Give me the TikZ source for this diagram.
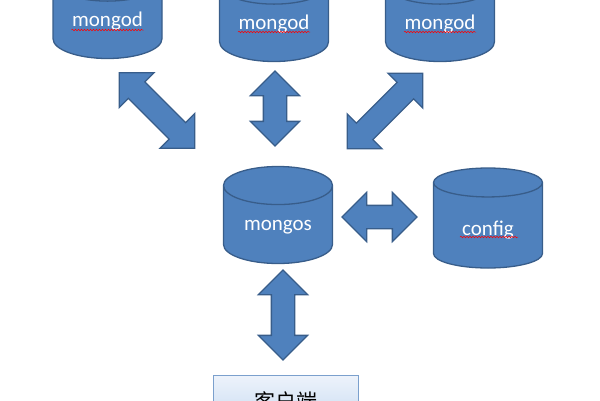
\documentclass[tikz,border=0pt]{standalone}
\usepackage{fontspec}
\setmainfont{Carlito}
\newfontfamily\cjk{Noto Sans CJK SC}
\usetikzlibrary{shapes.geometric,shapes.arrows,decorations.pathmorphing,calc}
\definecolor{dbfill}{HTML}{4F81BD}
\definecolor{dbline}{HTML}{385D8A}
\definecolor{boxtop}{HTML}{EDF3FB}
\definecolor{boxbot}{HTML}{C6D9F1}
\definecolor{boxline}{HTML}{7BA0CD}

\begin{document}
\begin{tikzpicture}[x=1pt, y=-1pt,
	db/.style={draw=dbline, line width=1.3pt, fill=dbfill, cylinder,
		shape border rotate=90, aspect=0.56, minimum width=109pt,
		minimum height=97pt, inner sep=0pt, text=white, anchor=shape center,
		font=\fontsize{21}{21}\selectfont},
	twoway/.style={draw=dbline, line width=1.3pt, fill=dbfill, double arrow,
		double arrow head extend=13pt, minimum width=48pt,
		inner xsep=0pt, inner ysep=11pt},
	typo/.style={draw=red, line width=0.5pt, decorate,
		decoration={snake, amplitude=0.8pt, segment length=3pt}},
	client/.style={draw=boxline, line width=1pt, top color=boxtop,
		bottom color=boxbot, minimum width=145pt, minimum height=52pt,
		font=\cjk\fontsize{21}{21}\selectfont}]
	\useasboundingbox (0,0) rectangle (600,400);
	\clip (0,0) rectangle (600,400);
	% shards
	\node[db] (mongod1) at (107.5, 10) {\raisebox{-6pt}[0pt][0pt]{mongod}};
	\node[db] (mongod2) at (274, 13) {\raisebox{-6pt}[0pt][0pt]{mongod}};
	\node[db] (mongod3) at (440, 13) {\raisebox{-6pt}[0pt][0pt]{mongod}};
	% router and config server
	\node[db] (mongos) at (278, 215) {\raisebox{-6pt}[0pt][0pt]{mongos}};
	\node[db, minimum height=100pt] (config) at (488, 218) {\raisebox{-10pt}[0pt][0pt]{config}};
	\node[client] (client) at (285.5, 401) {客户端};
	% arrows
	\node[twoway, minimum height=107pt, rotate=-45] (a1) at (157, 110.5) {};
	\node[twoway, minimum height=75pt, rotate=90] (a2) at (275, 108.5) {};
	\node[twoway, minimum height=107pt, rotate=45] (a3) at (385, 111) {};
	\node[twoway, minimum height=75pt] (a4) at (379.5, 217) {};
	\node[twoway, minimum height=90pt, rotate=90] (a5) at (283, 315) {};
	% spell check marks
	\draw[typo] ($(mongod1.shape center)+(-36,20)$) -- ++(72,0);
	\draw[typo] ($(mongod2.shape center)+(-36,19)$) -- ++(72,0);
	\draw[typo] ($(mongod3.shape center)+(-36,19)$) -- ++(72,0);
	\draw[typo] ($(config.shape center)+(-28,19)$) -- ++(58,0);
\end{tikzpicture}
\end{document}
